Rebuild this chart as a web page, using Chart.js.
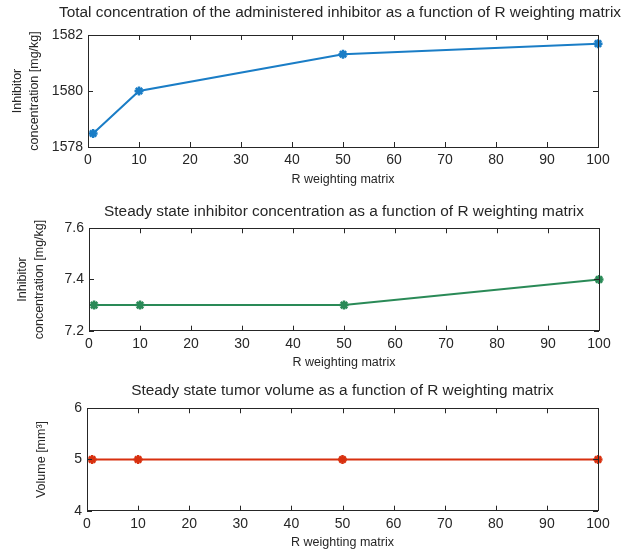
<!DOCTYPE html>
<html>
<head>
<meta charset="utf-8">
<script src="https://cdn.jsdelivr.net/npm/chart.js@4/dist/chart.umd.min.js"></script>
<style>
  body { margin: 0; background: #fff; }
  .panel { position: absolute; left: 0; width: 635px; }
</style>
</head>
<body>
<div class="panel" style="top:0;height:195px"><canvas id="c1"></canvas></div>
<div class="panel" style="top:195px;height:180px"><canvas id="c2"></canvas></div>
<div class="panel" style="top:375px;height:176px"><canvas id="c3"></canvas></div>
<script>
// R weighting matrix values (x)
const rWeights = [1, 10, 50, 100];
// total concentration of administered inhibitor [mg/kg]
const totalConc = [1578.48, 1580.0, 1581.31, 1581.69];
// steady state inhibitor concentration [mg/kg]
const steadyConc = [7.3, 7.3, 7.3, 7.4];
// steady state tumor volume [mm^3]
const tumorVolume = [5, 5, 5, 5];

const xTicks = [0, 10, 20, 30, 40, 50, 60, 70, 80, 90, 100];
const yTicks1 = [1578, 1580, 1582];
const yTicks2 = [7.2, 7.4, 7.6];
const yTicks3 = [4, 5, 6];

const FONT = '"Liberation Sans", Arial, Helvetica, sans-serif';
const INK = '#262626';

// MATLAB style box with inward ticks on all four sides
const boxTicks = {
  id: 'boxTicks',
  afterDraw(chart) {
    const { ctx, chartArea: a, scales } = chart;
    const len = 5;
    ctx.save();
    ctx.strokeStyle = INK;
    ctx.lineWidth = 1;
    ctx.beginPath();
    scales.x.ticks.forEach(t => {
      const px = Math.round(scales.x.getPixelForValue(t.value)) + 0.5;
      ctx.moveTo(px, a.bottom); ctx.lineTo(px, a.bottom - len);
      ctx.moveTo(px, a.top); ctx.lineTo(px, a.top + len);
    });
    scales.y.ticks.forEach(t => {
      const py = Math.round(scales.y.getPixelForValue(t.value)) + 0.5;
      ctx.moveTo(a.left, py); ctx.lineTo(a.left + len, py);
      ctx.moveTo(a.right, py); ctx.lineTo(a.right - len, py);
    });
    ctx.stroke();
    ctx.strokeRect(Math.round(a.left) + 0.5, Math.round(a.top) + 0.5,
      Math.round(a.right - a.left), Math.round(a.bottom - a.top));
    ctx.restore();
  }
};

function makeChart(id, cfg) {
  return new Chart(document.getElementById(id), {
    type: 'line',
    data: {
      datasets: [{
        data: rWeights.map((r, i) => ({ x: r, y: cfg.values[i] })),
        borderColor: cfg.color,
        backgroundColor: cfg.color,
        borderWidth: 2,
        pointStyle: 'star',
        pointRadius: 4.5,
        pointBorderWidth: 2.5,
        tension: 0,
        clip: false
      }]
    },
    options: {
      responsive: true,
      maintainAspectRatio: false,
      animation: false,
      layout: { padding: { left: 0, right: cfg.right, top: 0, bottom: 0 } },
      plugins: {
        legend: { display: false },
        tooltip: { enabled: false },
        title: {
          display: true,
          text: cfg.title,
          fullSize: cfg.titleFull,
          align: cfg.titleFull ? 'end' : 'center',
          color: INK,
          font: { family: FONT, size: 15.4, weight: 'normal', lineHeight: 1.2 },
          padding: { top: cfg.titleTop, bottom: cfg.titleBottom }
        }
      },
      scales: {
        x: {
          type: 'linear',
          min: 0, max: 100,
          afterBuildTicks: s => { s.ticks = xTicks.map(v => ({ value: v })); },
          afterFit: s => { s.height = cfg.xHeight; },
          grid: { display: false, drawTicks: false },
          border: { display: false },
          ticks: { color: INK, padding: 5, font: { family: FONT, size: 14 }, callback: v => String(v) },
          title: {
            display: true,
            text: 'R weighting matrix',
            color: INK,
            font: { family: FONT, size: 12.5, lineHeight: 1.2 },
            padding: { top: 0, bottom: cfg.xTitleBottom }
          }
        },
        y: {
          type: 'linear',
          min: cfg.yTicks[0], max: cfg.yTicks[cfg.yTicks.length - 1],
          afterBuildTicks: s => { s.ticks = cfg.yTicks.map(v => ({ value: v })); },
          afterFit: s => { s.width = cfg.left; },
          grid: { display: false, drawTicks: false },
          border: { display: false },
          ticks: { color: INK, padding: 5, font: { family: FONT, size: 14 }, callback: v => String(v) },
          title: {
            display: true,
            text: cfg.yTitle,
            color: INK,
            font: { family: FONT, size: 12.5, lineHeight: 1.3 },
            padding: { top: cfg.yTitleLeft, bottom: 0 }
          }
        },
        // empty right axis, only reserves the margin right of the box
        yRight: {
          type: 'linear',
          position: 'right',
          display: cfg.rightAxis > 0,
          afterFit: s => { s.width = cfg.rightAxis; },
          grid: { display: false, drawTicks: false },
          border: { display: false },
          ticks: { display: false }
        }
      }
    },
    plugins: [boxTicks]
  });
}

makeChart('c1', {
  values: totalConc, yTicks: yTicks1, color: '#1a7dc6',
  title: 'Total concentration of the administered inhibitor as a function of R weighting matrix',
  titleFull: true,
  yTitle: ['Inhibitor', 'concentration [mg/kg]'],
  left: 88, right: 14, rightAxis: 23, titleTop: 3.8, titleBottom: 12.7,
  xHeight: 48, xTitleBottom: 7.5, yTitleLeft: 9.9
});

makeChart('c2', {
  values: steadyConc, yTicks: yTicks2, color: '#2a8a57',
  title: 'Steady state inhibitor concentration as a function of R weighting matrix',
  titleFull: false,
  yTitle: ['Inhibitor', 'concentration [mg/kg]'],
  left: 89, right: 36, rightAxis: 0, titleTop: 7.8, titleBottom: 7.0,
  xHeight: 44.3, xTitleBottom: 4.5, yTitleLeft: 14.9
});

makeChart('c3', {
  values: tumorVolume, yTicks: yTicks3, color: '#d8300f',
  title: 'Steady state tumor volume as a function of R weighting matrix',
  titleFull: false,
  yTitle: 'Volume [mm³]',
  left: 87, right: 37, rightAxis: 0, titleTop: 6.5, titleBottom: 8.3,
  xHeight: 40.3, xTitleBottom: 0.8, yTitleLeft: 33.9
});
</script>
</body>
</html>
